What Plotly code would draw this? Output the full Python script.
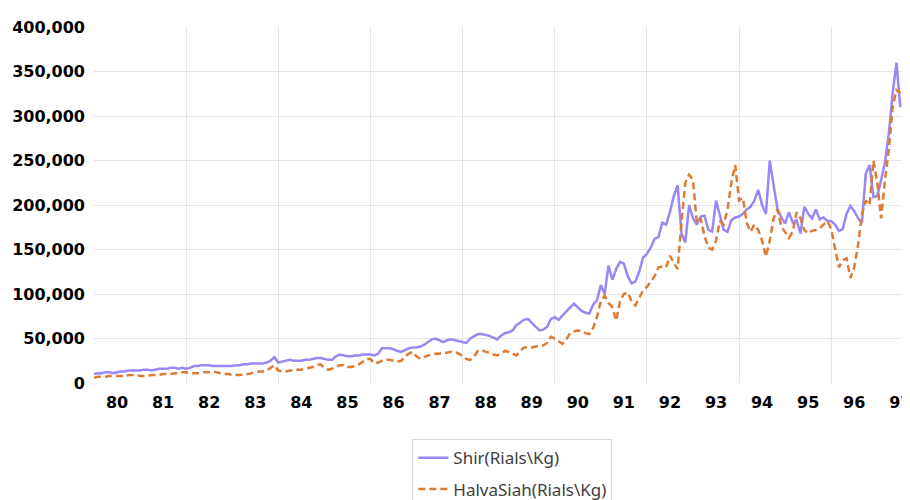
import plotly.graph_objects as go

# Monthly prices (thousand Rials per Kg), Farvardin 1380 .. Mehr 1397
shir_k = [
    10, 11, 11, 12, 12, 11, 12, 13, 13, 14, 14, 14,          # 1380
    14, 15, 15, 14, 15, 16, 16, 16, 17, 17, 16, 17,          # 1381
    16, 17, 19, 19, 20, 20, 20, 19, 19, 19, 19, 19,          # 1382
    19, 20, 20, 21, 21, 22, 22, 22, 22, 23, 25, 29,          # 1383
    23, 24, 25, 26, 25, 25, 25, 26, 26, 27, 28, 28,          # 1384
    27, 26, 26, 30, 32, 31, 30, 30, 31, 31, 32, 32,          # 1385
    32, 31, 33, 39, 39, 39, 38, 36, 35, 37, 39, 40,          # 1386
    40, 41, 43, 46, 49, 50, 48, 46, 48, 49, 48, 47,          # 1387
    46, 45, 50, 53, 55, 55, 54, 53, 51, 49, 53, 56,          # 1388
    57, 59, 65, 68, 71, 72, 68, 63, 59, 60, 63, 72,          # 1389
    74, 71, 76, 80, 85, 89, 85, 81, 79, 78, 88, 93,          # 1390
    110, 100, 132, 116, 128, 136, 134, 120, 112, 114, 125, 141,  # 1391
    145, 152, 162, 164, 180, 178, 192, 210, 222, 168, 158, 200,  # 1392
    185, 178, 187, 188, 172, 170, 205, 190, 172, 170, 183, 186,  # 1393
    187, 190, 195, 198, 205, 217, 200, 190, 250, 222, 196, 186,  # 1394
    179, 192, 180, 183, 168, 198, 190, 185, 195, 184, 186, 182,  # 1395
    182, 178, 171, 173, 190, 199, 193, 185, 180, 235, 245, 209,  # 1396
    210, 228, 248, 280, 325, 360, 310,                       # 1397
]

halva_k = [
    6, 7, 7, 7, 8, 8, 8, 8, 8, 9, 9, 9,                      # 1380
    8, 8, 8, 9, 9, 9, 10, 10, 10, 11, 11, 12,                # 1381
    12, 11, 11, 11, 12, 12, 12, 13, 12, 11, 10, 10,          # 1382
    9, 9, 9, 10, 10, 11, 12, 13, 13, 14, 17, 20,             # 1383
    14, 13, 13, 14, 14, 15, 15, 16, 17, 18, 20, 21,          # 1384
    17, 15, 16, 18, 20, 20, 18, 18, 19, 21, 24, 27,          # 1385
    27, 22, 23, 25, 26, 26, 25, 24, 25, 30, 33, 35,          # 1386
    30, 27, 29, 31, 32, 33, 33, 34, 34, 35, 35, 33,          # 1387
    30, 27, 26, 30, 36, 37, 35, 34, 32, 31, 33, 36,          # 1388
    35, 33, 31, 36, 40, 40, 40, 41, 42, 42, 45, 52,          # 1389
    50, 47, 44, 49, 56, 58, 59, 58, 56, 55, 62, 74,          # 1390
    92, 98, 90, 85, 70, 92, 100, 102, 92, 87, 95, 104,       # 1391
    108, 114, 120, 130, 131, 130, 143, 135, 128, 180, 225, 234,  # 1392
    228, 180, 185, 165, 152, 150, 160, 182, 178, 195, 225, 245,  # 1393
    205, 208, 180, 170, 178, 172, 160, 142, 160, 185, 195, 176,  # 1394
    170, 163, 170, 192, 185, 172, 168, 171, 172, 174, 178, 182,  # 1395
    173, 150, 130, 138, 140, 118, 130, 155, 190, 205, 200, 250,  # 1396
    225, 185, 228, 262, 310, 329, 326,                       # 1397
]

year_labels = ["80", "81", "82", "83", "84", "85", "86", "87", "88",
               "89", "90", "91", "92", "93", "94", "95", "96", "97"]
year_vals = [int(s) for s in year_labels]
grid_years = [81.5, 83.5, 85.5, 87.5, 89.5, 91.5, 93.5, 95.5]
y_ticks = [0, 50000, 100000, 150000, 200000, 250000, 300000, 350000, 400000]

# month index -> fractional (short) year, each year centred on its label
x = [79.5 + i / 12 for i in range(len(shir_k))]
shir = [v * 1000 for v in shir_k]
halva = [v * 1000 for v in halva_k]

fig = go.Figure()
fig.add_trace(go.Scatter(
    x=x, y=shir, mode="lines", name="Shir(Rials\\Kg)", legendgroup="a",
    line=dict(color="#9b86f6", width=2.5)))
fig.add_trace(go.Scatter(
    x=x, y=halva, mode="lines", name="HalvaSiah(Rials\\Kg)", legendgroup="b",
    line=dict(color="#df7a33", width=2.5, dash="7px,4px")))

tick_font = dict(family="DejaVu Sans", size=16, color="#000000", weight="bold")
grid_col = "#e6e6e6"

fig.update_layout(
    width=902, height=492,
    margin=dict(l=86, r=6, t=19, b=117, autoexpand=False),
    paper_bgcolor="white", plot_bgcolor="white",
    showlegend=True,
    legend=dict(
        x=0.393, y=-0.158, xanchor="left", yanchor="top",
        bordercolor="#d9d9d9", borderwidth=1, bgcolor="white",
        font=dict(family="Noto Sans", size=17, color="#404040"),
        tracegroupgap=6, traceorder="grouped",
    ),
    xaxis=dict(
        range=[79.5, 97.08], tickmode="array", tickvals=year_vals, ticktext=year_labels,
        showgrid=False, zeroline=False, showline=False, ticks="",
        tickfont=tick_font, ticklabelstandoff=8, ticklabeloverflow="allow",
        minor=dict(tickmode="array", tickvals=grid_years, showgrid=True,
                   gridcolor=grid_col, gridwidth=1.3, ticks=""),
    ),
    yaxis=dict(
        range=[0, 400000], tickmode="array", tickvals=y_ticks, tickformat=",",
        showgrid=True, gridcolor=grid_col, gridwidth=1.3, zeroline=False,
        showline=False, ticks="", tickfont=tick_font, ticklabelstandoff=8,
    ),
)

fig.write_html("out.html")
